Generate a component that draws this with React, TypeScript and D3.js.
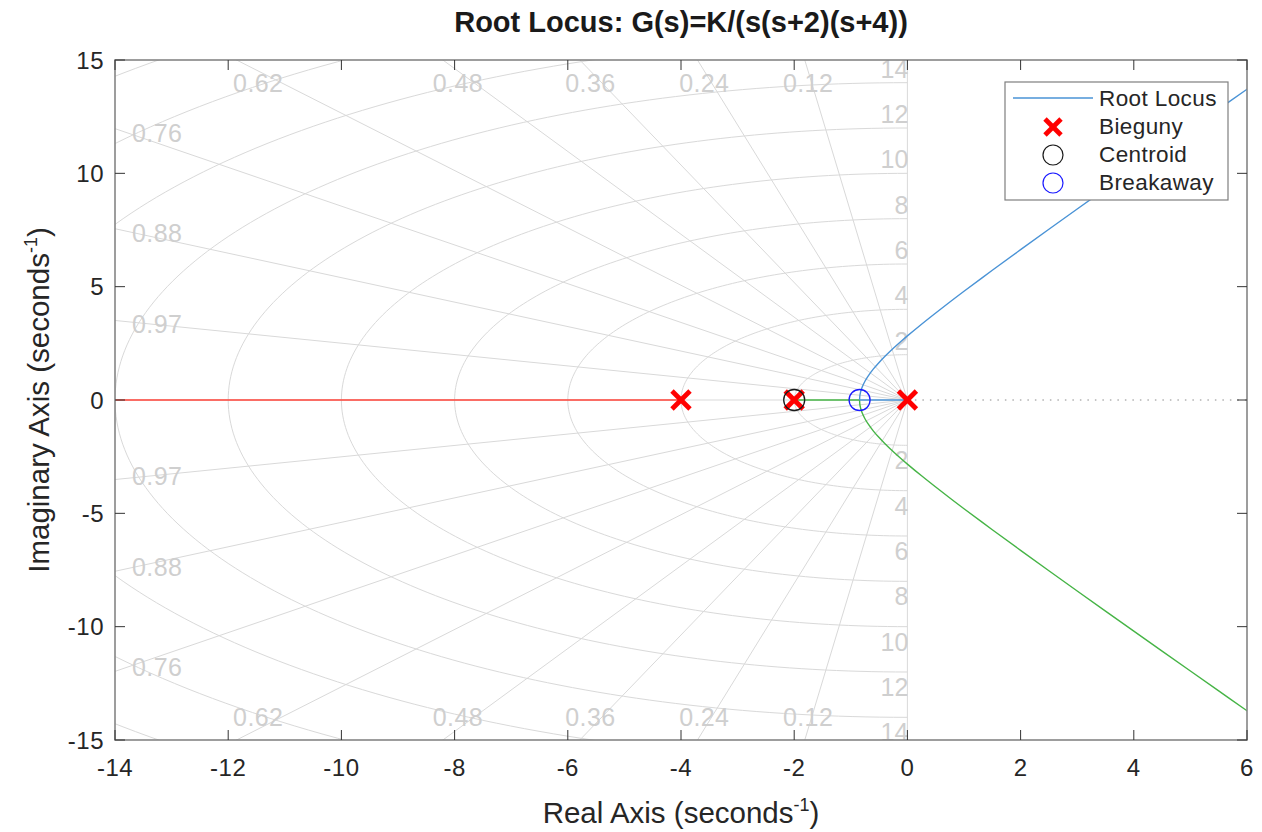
import React from 'react';
import * as d3 from 'd3';

// chart values
const poles = [0, -2, -4];
const centroid = -2;
const breakaway = -0.845;
const branchReal = [-0.845, -0.84, -0.83, -0.82, -0.8, -0.75, -0.7, -0.6, -0.5, -0.4, -0.3, -0.2, -0.1, 0, 0.25, 0.5, 0.75, 1, 1.5, 2, 2.5, 3, 3.5, 4, 4.5, 5, 5.5, 6, 6.2];
const upperImag = [0, 0.192, 0.327, 0.421, 0.566, 0.829, 1.034, 1.371, 1.658, 1.918, 2.161, 2.392, 2.613, 2.828, 3.345, 3.841, 4.323, 4.796, 5.723, 6.633, 7.533, 8.426, 9.314, 10.198, 11.079, 11.958, 12.835, 13.711, 14.06];
const lowerImag = [0, -0.192, -0.327, -0.421, -0.566, -0.829, -1.034, -1.371, -1.658, -1.918, -2.161, -2.392, -2.613, -2.828, -3.345, -3.841, -4.323, -4.796, -5.723, -6.633, -7.533, -8.426, -9.314, -10.198, -11.079, -11.958, -12.835, -13.711, -14.06];
const realBranchEnds = [-4, -16];

const dampingRatios = [0.12, 0.24, 0.36, 0.48, 0.62, 0.76, 0.88, 0.97];
const naturalFreqs = [2, 4, 6, 8, 10, 12, 14, 16, 18, 20];
const xTicks = [-14, -12, -10, -8, -6, -4, -2, 0, 2, 4, 6];
const yTicks = [-15, -10, -5, 0, 5, 10, 15];
const legendItems = ['Root Locus', 'Bieguny', 'Centroid', 'Breakaway'];

const W = 1262;
const H = 832;
const margin = { top: 60, right: 15, bottom: 92, left: 115 };
const font = 'Arial, "Liberation Sans", Helvetica, sans-serif';
const gridColor = '#d9d9d9';
const gridText = '#cfcfcf';
const blue = '#4a93d6';
const green = '#46b446';
const red = '#ff4338';

const xScale = d3.scaleLinear().domain([-14, 6]).range([margin.left, W - margin.right]);
const yScale = d3.scaleLinear().domain([-15, 15]).range([H - margin.bottom, margin.top]);

const line = d3.line<[number, number]>()
  .x(d => xScale(d[0]))
  .y(d => yScale(d[1]));

const smooth = d3.line<[number, number]>()
  .x(d => xScale(d[0]))
  .y(d => yScale(d[1]))
  .curve(d3.curveCatmullRom);

const Cross = ({ cx, cy, s = 9 }: { cx: number; cy: number; s?: number }) => (
  <g stroke="#ff0000" strokeWidth={4.8} strokeLinecap="butt">
    <line x1={cx - s} y1={cy - s} x2={cx + s} y2={cy + s} />
    <line x1={cx - s} y1={cy + s} x2={cx + s} y2={cy - s} />
  </g>
);

export default function App() {
  const x0 = xScale.range()[0];
  const x1 = xScale.range()[1];
  const yTop = yScale.range()[1];
  const yBot = yScale.range()[0];
  const ox = xScale(0);
  const oy = yScale(0);
  const kx = xScale(1) - xScale(0);
  const ky = yScale(0) - yScale(1);
  const [yMin, yMax] = yScale.domain();

  const upper = branchReal.map((r, i) => [r, upperImag[i]] as [number, number]);
  const lower = branchReal.map((r, i) => [r, lowerImag[i]] as [number, number]);

  // damping label positions (grid)
  const zetaLabels = dampingRatios.flatMap(z => {
    const th = Math.acos(z);
    const dx = Math.cos(th) * kx;
    const dy = Math.sin(th) * ky;
    const xAtTop = ox - ((oy - yTop) / dy) * dx;
    if (xAtTop > x0) {
      const t = (oy - (yTop + 11)) / dy;
      const px = ox - t * dx;
      return [
        { z, x: px, y: yTop + 23, anchor: 'middle' },
        { z, x: px, y: yBot - 23, anchor: 'middle' },
      ];
    }
    const py = oy - ((ox - x0) / dx) * dy;
    return [
      { z, x: x0 + 17, y: py + 4, anchor: 'start' },
      { z, x: x0 + 17, y: 2 * oy - py - 4, anchor: 'start' },
    ];
  });

  const wnLabels = naturalFreqs.filter(wn => wn < yMax && -wn > yMin);

  const lx = 1005;
  const ly = 82;

  return (
    <svg width={W} height={H} style={{ position: 'absolute', left: 0, top: 0, background: '#fff' }} fontFamily={font}>
      <defs>
        <clipPath id="plot">
          <rect x={x0} y={yTop} width={x1 - x0} height={yBot - yTop} />
        </clipPath>
      </defs>
      <rect width={W} height={H} fill="#fff" />

      <g clipPath="url(#plot)">
        {/* natural frequency arcs */}
        {naturalFreqs.map(wn => (
          <path
            key={'wn' + wn}
            d={line(d3.range(90, 270.5, 1).map(a => [wn * Math.cos((a * Math.PI) / 180), wn * Math.sin((a * Math.PI) / 180)] as [number, number])) || ''}
            fill="none"
            stroke={gridColor}
            strokeWidth={1}
          />
        ))}
        {/* damping lines */}
        {dampingRatios.map(z => {
          const th = Math.acos(z);
          return (
            <g key={'z' + z} stroke={gridColor} strokeWidth={1}>
              <line x1={ox} y1={oy} x2={xScale(-40 * Math.cos(th))} y2={yScale(40 * Math.sin(th))} />
              <line x1={ox} y1={oy} x2={xScale(-40 * Math.cos(th))} y2={yScale(-40 * Math.sin(th))} />
            </g>
          );
        })}
        <line x1={x0} y1={oy} x2={ox} y2={oy} stroke={gridColor} />
        <line x1={ox} y1={yTop} x2={ox} y2={yBot} stroke={gridColor} />

        {/* grid labels */}
        {zetaLabels.map((l, i) => (
          <text key={'zl' + i} x={l.x} y={l.y} textAnchor={l.anchor} dominantBaseline="central" fill={gridText} fontSize={25} letterSpacing={0.4}>
            {l.z}
          </text>
        ))}
        {wnLabels.map(wn => (
          <g key={'wl' + wn} fill={gridText} fontSize={25} textAnchor="end">
            <text x={ox + 1} y={yScale(wn) - 14} dominantBaseline="central">{wn}</text>
            <text x={ox + 1} y={yScale(-wn) + 15} dominantBaseline="central">{wn}</text>
          </g>
        ))}

        {/* dotted real axis */}
        <line x1={ox} y1={oy} x2={x1} y2={oy} stroke="#8a8a8a" strokeWidth={1} strokeDasharray="1.5,6" />

        {/* locus branches */}
        <path d={line([[realBranchEnds[0], 0], [realBranchEnds[1], 0]]) || ''} stroke={red} strokeWidth={1.3} fill="none" />
        <path d={line([[poles[1], 0], [breakaway, 0]]) || ''} stroke={green} strokeWidth={1.4} fill="none" />
        <path d={smooth(lower) || ''} stroke={green} strokeWidth={1.4} fill="none" />
        <path d={line([[poles[0], 0], [breakaway, 0]]) || ''} stroke={blue} strokeWidth={1.4} fill="none" />
        <path d={smooth(upper) || ''} stroke={blue} strokeWidth={1.4} fill="none" />

        {poles.map(p => (
          <Cross key={'p' + p} cx={xScale(p)} cy={oy} />
        ))}
        <circle cx={xScale(centroid)} cy={oy} r={10.5} fill="none" stroke="#1a1a1a" strokeWidth={1.3} />
        <circle cx={xScale(breakaway)} cy={oy} r={10.5} fill="none" stroke="#1a1aff" strokeWidth={1.3} />
      </g>

      {/* axes box and ticks */}
      <rect x={x0} y={yTop} width={x1 - x0} height={yBot - yTop} fill="none" stroke="#858585" strokeWidth={1.6} />
      {xTicks.map(t => (
        <g key={'xt' + t}>
          <line x1={xScale(t)} x2={xScale(t)} y1={yBot} y2={yBot - 10} stroke="#333" />
          <line x1={xScale(t)} x2={xScale(t)} y1={yTop} y2={yTop + 10} stroke="#333" />
          <text x={xScale(t)} y={yBot + 27} textAnchor="middle" dominantBaseline="central" fontSize={24} letterSpacing={0.5} fill="#262626">
            {t}
          </text>
        </g>
      ))}
      {yTicks.map(t => (
        <g key={'yt' + t}>
          <line x1={x0} x2={x0 + 10} y1={yScale(t)} y2={yScale(t)} stroke="#333" />
          <line x1={x1} x2={x1 - 10} y1={yScale(t)} y2={yScale(t)} stroke="#333" />
          <text x={x0 - 11} y={yScale(t)} textAnchor="end" dominantBaseline="central" fontSize={24} letterSpacing={0.5} fill="#262626">
            {t}
          </text>
        </g>
      ))}

      {/* labels */}
      <text x={(x0 + x1) / 2} y={32} textAnchor="middle" fontSize={29} fontWeight="bold" fill="#1a1a1a">
        Root Locus: G(s)=K/(s(s+2)(s+4))
      </text>
      <text x={(x0 + x1) / 2} y={823} textAnchor="middle" fontSize={29.5} fill="#262626">
        Real Axis (seconds<tspan fontSize={18} dy={-12}>-1</tspan><tspan dy={12}>)</tspan>
      </text>
      <text transform={`translate(49, ${(yTop + yBot) / 2}) rotate(-90)`} textAnchor="middle" fontSize={29.5} fill="#262626">
        Imaginary Axis (seconds<tspan fontSize={18} dy={-12}>-1</tspan><tspan dy={12}>)</tspan>
      </text>

      {/* legend */}
      <g>
        <rect x={lx} y={ly} width={223} height={118} fill="#fff" stroke="#7f7f7f" strokeWidth={1.2} />
        <line x1={lx + 8} x2={lx + 88} y1={ly + 16} y2={ly + 16} stroke={blue} strokeWidth={1.3} />
        <Cross cx={lx + 48} cy={ly + 45} s={8} />
        <circle cx={lx + 48} cy={ly + 73} r={10} fill="none" stroke="#1a1a1a" strokeWidth={1.2} />
        <circle cx={lx + 48} cy={ly + 101} r={10} fill="none" stroke="#1a1aff" strokeWidth={1.2} />
        {legendItems.map((s, i) => (
          <text key={s} x={lx + 94} y={ly + 16 + i * 28.3} dominantBaseline="central" fontSize={22.5} letterSpacing={0.4} fill="#262626">
            {s}
          </text>
        ))}
      </g>
    </svg>
  );
}
